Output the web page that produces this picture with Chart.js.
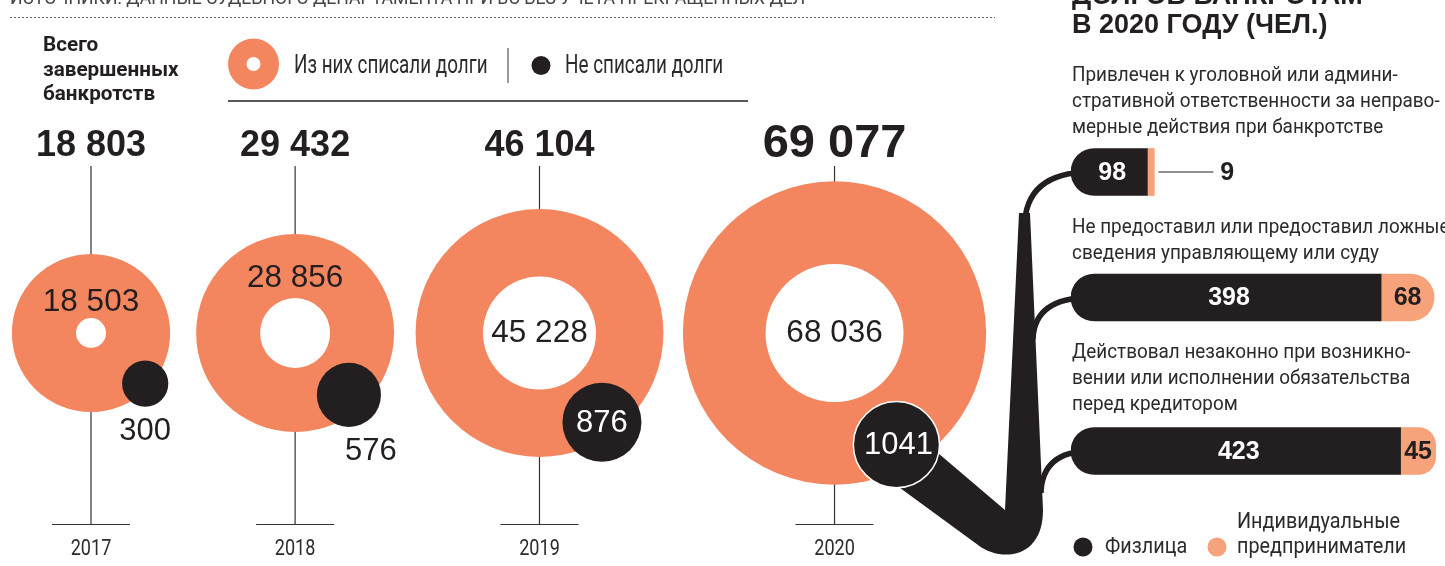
<!DOCTYPE html>
<html>
<head>
<meta charset="utf-8">
<script src="https://cdn.jsdelivr.net/npm/chart.js@4.4.1/dist/chart.umd.min.js"></script>
<style>
  html, body { margin: 0; padding: 0; background: #fff; overflow: hidden; }
  #wrap { position: relative; width: 1445px; height: 566px; }
  #main { position: absolute; left: 0; top: 0; }
  #bars { position: absolute; left: 1060px; top: 0; }
</style>
</head>
<body>
<div id="wrap">
  <canvas id="main" width="1445" height="566"></canvas>
  <canvas id="bars" width="385" height="566"></canvas>
</div>
<script>
// ---- data ----
var years = ['2017', '2018', '2019', '2020'];
var totalCases = [18803, 29432, 46104, 69077];
var debtsWritten = [18503, 28856, 45228, 68036];
var notWritten = [300, 576, 876, 1041];

var reasons = [
  ['Привлечен к уголовной или админи-', 'стративной ответственности за неправо-', 'мерные действия при банкротстве'],
  ['Не предоставил или предоставил ложные', 'сведения управляющему или суду'],
  ['Действовал незаконно при возникно-', 'вении или исполнении обязательства', 'перед кредитором']
];
var individuals = [98, 398, 423];
var entrepreneurs = [9, 68, 45];

// ---- look ----
var ORANGE = '#f3855f', DARK = '#231f20', PEACH = '#f6a27b', INK = '#2b2b2b';
var W = 1445, H = 566;
var ringScale = 0.577, dotScale = 1.335;      // px per sqrt(person)
var holeR = [15, 35, 56.5, 69];
var firstX = 91, gaps = [26, 21.5, 19.5], rowY = 333;
var dotAngle = [43, 49, 55, 61], dotInset = [5, 17, 15, 24];
var ringLabelDy = [-31, -55, 0, 0];
var dotLabelDx = [0, 22, 0, 2];
var barLeft = 1060, barPad = 11, barMax = 480;

// layout of the ring row
var ringR = totalCases.map(function (v) { return ringScale * Math.sqrt(v); });
var dotR = notWritten.map(function (v) { return dotScale * Math.sqrt(v); });
var cx = [];
ringR.forEach(function (r, i) {
  cx.push(i === 0 ? firstX : cx[i - 1] + ringR[i - 1] + gaps[i - 1] + r);
});
var ringPts = years.map(function (y, i) { return { x: cx[i], y: rowY, r: ringR[i] }; });
var holePts = years.map(function (y, i) { return { x: cx[i], y: rowY, r: holeR[i] }; });
var dotPts = years.map(function (y, i) {
  var d = ringR[i] - dotInset[i], a = dotAngle[i] * Math.PI / 180;
  return { x: cx[i] + d * Math.cos(a), y: rowY + d * Math.sin(a), r: dotR[i] };
});

// layout of the reason blocks (text lines then a bar)
var lineH = 26, descY = [], barY = [];
var yy = 81;
reasons.forEach(function (lines, i) {
  descY.push(yy);
  var last = yy + (lines.length - 1) * lineH;
  barY.push(last + 39 + (i === 2 ? 2 : 0));
  yy = last + 39 + 60.5;
});

function say(ctx, s, x, y, o) {
  ctx.save();
  ctx.font = (o.weight || '400') + ' ' + o.size + 'px ' + (o.family || 'Roboto');
  ctx.fillStyle = o.color || DARK;
  ctx.textBaseline = o.base || 'alphabetic';
  ctx.textAlign = 'left';
  var sx = o.sx || 1;
  var w = ctx.measureText(s).width * sx;
  var x0 = o.align === 'center' ? x - w / 2 : (o.align === 'right' ? x - w : x);
  ctx.translate(x0, y);
  ctx.scale(sx, 1);
  ctx.fillText(s, 0, 0);
  ctx.restore();
}
function fmt(v) { return String(v).replace(/\B(?=(\d{3})+(?!\d))/g, ' '); }

// ---- bar chart (right) ----
var barLabels = {
  id: 'barLabels',
  afterDatasetsDraw: function (chart) {
    var ctx = chart.ctx;
    var fl = chart.getDatasetMeta(0).data, ip = chart.getDatasetMeta(1).data;
    fl.forEach(function (el, i) {
      say(ctx, String(individuals[i]), (el.base + el.x) / 2 + 3, el.y + 1, { size: 25, weight: '700', family: 'Liberation Sans', color: '#fff', align: 'center', base: 'middle' });
    });
    ip.forEach(function (el, i) {
      var w = el.x - el.base;
      if (w > 25) {
        say(ctx, String(entrepreneurs[i]), (el.base + el.x) / 2, el.y + 1, { size: 25, weight: '700', family: 'Liberation Sans', color: DARK, align: 'center', base: 'middle' });
      } else {
        ctx.save();
        ctx.strokeStyle = DARK; ctx.lineWidth = 1.2;
        ctx.beginPath(); ctx.moveTo(el.x + 4, el.y); ctx.lineTo(el.x + 59, el.y); ctx.stroke();
        ctx.restore();
        say(ctx, String(entrepreneurs[i]), el.x + 66, el.y + 1, { size: 25, weight: '700', family: 'Liberation Sans', color: DARK, base: 'middle' });
      }
    });
  }
};

var barChart = new Chart(document.getElementById('bars'), {
  type: 'bar',
  data: {
    datasets: [{
      label: 'Физлица',
      data: individuals.map(function (v, i) { return { x: v, y: barY[i] }; }),
      backgroundColor: DARK,
      borderSkipped: false,
      borderRadius: { topLeft: 24, bottomLeft: 24, topRight: 0, bottomRight: 0 },
      barThickness: 47
    }, {
      label: 'Индивидуальные предприниматели',
      data: entrepreneurs.map(function (v, i) { return { x: v, y: barY[i] }; }),
      backgroundColor: PEACH,
      borderSkipped: false,
      borderRadius: function (c) {
        return c.raw && c.raw.x >= 20 ? { topLeft: 0, bottomLeft: 0, topRight: 24, bottomRight: 24 } : 0;
      },
      barThickness: 47
    }]
  },
  options: {
    indexAxis: 'y',
    responsive: false,
    animation: false,
    events: [],
    layout: { autoPadding: false, padding: { left: barPad, right: 0, top: 0, bottom: 0 } },
    plugins: { legend: { display: false }, tooltip: { enabled: false } },
    scales: {
      x: { type: 'linear', stacked: true, min: 0, max: barMax, display: false, offset: false },
      y: { type: 'linear', stacked: true, min: 0, max: H, reverse: true, display: false, offset: false }
    }
  },
  plugins: [barLabels]
});

// ---- ring chart (left, full canvas) ----
var decor = {
  id: 'decor',
  beforeDatasetsDraw: function (chart) {
    var ctx = chart.ctx;
    ctx.save();
    // dotted rule under the source line
    ctx.strokeStyle = '#666'; ctx.lineWidth = 1; ctx.setLineDash([2, 2]);
    ctx.beginPath(); ctx.moveTo(10, 17.5); ctx.lineTo(995, 17.5); ctx.stroke();
    ctx.setLineDash([]);
    // stems and base ticks
    var rings = chart.getDatasetMeta(2).data;
    ctx.strokeStyle = '#333'; ctx.lineWidth = 1.2;
    rings.forEach(function (el) {
      ctx.beginPath();
      ctx.moveTo(el.x, 166); ctx.lineTo(el.x, 524.5);
      ctx.moveTo(el.x - 39, 524.5); ctx.lineTo(el.x + 39, 524.5);
      ctx.stroke();
    });
    // legend rule and divider
    ctx.strokeStyle = DARK; ctx.lineWidth = 1.5;
    ctx.beginPath(); ctx.moveTo(228, 101); ctx.lineTo(748, 101); ctx.stroke();
    ctx.strokeStyle = '#333'; ctx.lineWidth = 1;
    ctx.beginPath(); ctx.moveTo(508, 48); ctx.lineTo(508, 83); ctx.stroke();

    // connector from the 2020 dot to the three bars
    var bm = barChart.getDatasetMeta(0).data;
    var xL = barLeft + bm[0].base;
    var y1 = bm[0].y, y2 = bm[1].y, y3 = bm[2].y;
    var dot = chart.getDatasetMeta(0).data[3];
    var rb = dot.options.radius;
    var xs = xL - 47, yb = y3 + 59, xt = xL - 46.5, yt = y1 + 41;
    var a1 = 12 * Math.PI / 180, a2 = 86 * Math.PI / 180;
    ctx.fillStyle = DARK;
    ctx.beginPath();
    ctx.moveTo(dot.x + rb * Math.cos(a1), dot.y + rb * Math.sin(a1));
    ctx.lineTo(xs - 19, yb);
    ctx.lineTo(xt - 5.5, yt);
    ctx.lineTo(xt + 5.5, yt);
    ctx.lineTo(xs + 19, yb);
    ctx.bezierCurveTo(xs + 19, yb + 50, xs - 24, yb + 52, xs - 46, yb + 35);
    ctx.lineTo(dot.x + rb * Math.cos(a2), dot.y + rb * Math.sin(a2));
    ctx.closePath();
    ctx.fill();
    ctx.strokeStyle = DARK; ctx.lineWidth = 5.5;
    ctx.beginPath();
    ctx.moveTo(xt, yt + 15); ctx.quadraticCurveTo(xt, y1, xL + 20, y1);
    ctx.moveTo(xL - 38, y2 + 42); ctx.quadraticCurveTo(xL - 37, y2, xL + 20, y2);
    ctx.moveTo(xL - 30, y3 + 42); ctx.quadraticCurveTo(xL - 29, y3, xL + 20, y3);
    ctx.stroke();
    ctx.restore();
  },
  afterDatasetsDraw: function (chart) {
    var ctx = chart.ctx;
    var rings = chart.getDatasetMeta(2).data, dots = chart.getDatasetMeta(0).data;

    // source line (cut by the top edge) and the right-hand title
    say(ctx, 'ИСТОЧНИКИ: ДАННЫЕ СУДЕБНОГО ДЕПАРТАМЕНТА ПРИ ВС БЕЗ УЧЕТА ПРЕКРАЩЕННЫХ ДЕЛ', 10, 4, { size: 19, color: '#444', sx: 0.93 });
    say(ctx, 'ДОЛГОВ БАНКРОТАМ', 1072, 4, { size: 27, weight: '700', family: 'Liberation Sans' });
    say(ctx, 'В 2020 ГОДУ (ЧЕЛ.)', 1072, 33, { size: 27, weight: '700', family: 'Liberation Sans' });

    // left caption
    ['Всего', 'завершенных', 'банкротств'].forEach(function (s, i) {
      say(ctx, s, 43, 51 + i * 24.5, { size: 21, weight: '700', sx: 0.985 });
    });

    // legend
    ctx.save();
    ctx.fillStyle = ORANGE;
    ctx.beginPath(); ctx.arc(253.5, 64, 25.5, 0, Math.PI * 2); ctx.fill();
    ctx.fillStyle = '#fff';
    ctx.beginPath(); ctx.arc(253.5, 64, 7, 0, Math.PI * 2); ctx.fill();
    ctx.fillStyle = DARK;
    ctx.beginPath(); ctx.arc(541, 65.5, 9.5, 0, Math.PI * 2); ctx.fill();
    ctx.restore();
    say(ctx, 'Из них списали долги', 294, 73, { size: 25, color: INK, sx: 0.755 });
    say(ctx, 'Не списали долги', 565, 73, { size: 25, color: INK, sx: 0.755 });

    // totals, years, values
    rings.forEach(function (el, i) {
      var big = i === rings.length - 1;
      say(ctx, fmt(totalCases[i]), el.x, big ? 157 : 156, { size: big ? 47 : 36, weight: '700', family: 'Liberation Sans', align: 'center' });
      say(ctx, years[i], el.x, 555, { size: 22, color: INK, sx: 0.82, align: 'center' });
      say(ctx, fmt(debtsWritten[i]), el.x, el.y + ringLabelDy[i], { size: 31.5, family: 'Liberation Sans', align: 'center', base: 'middle' });
      var d = dots[i], inside = d.options.radius > 36;
      if (inside) {
        say(ctx, String(notWritten[i]), d.x + dotLabelDx[i], d.y + 1, { size: 31, family: 'Liberation Sans', color: '#fff', align: 'center', base: 'middle' });
      } else {
        say(ctx, String(notWritten[i]), d.x + dotLabelDx[i], d.y + d.options.radius + 33, { size: 31, family: 'Liberation Sans', align: 'center' });
      }
    });

    // reason captions
    reasons.forEach(function (lines, i) {
      lines.forEach(function (s, j) {
        say(ctx, s, 1072, descY[i] + j * lineH, { size: 21, color: INK, sx: 0.9 });
      });
    });

    // bottom legend
    ctx.save();
    ctx.fillStyle = DARK;
    ctx.beginPath(); ctx.arc(1083, 547, 9.5, 0, Math.PI * 2); ctx.fill();
    ctx.fillStyle = PEACH;
    ctx.beginPath(); ctx.arc(1217, 547, 9.5, 0, Math.PI * 2); ctx.fill();
    ctx.restore();
    say(ctx, 'Физлица', 1105, 553, { size: 22, color: INK, sx: 0.9 });
    say(ctx, 'Индивидуальные', 1237, 528, { size: 22, color: INK, sx: 0.9 });
    say(ctx, 'предприниматели', 1237, 553, { size: 22, color: INK, sx: 0.9 });
  }
};

var mainChart = new Chart(document.getElementById('main'), {
  type: 'bubble',
  data: {
    datasets: [{
      label: 'Не списали долги',
      data: dotPts,
      backgroundColor: DARK,
      borderColor: '#fff',
      borderWidth: function (c) { return c.dataIndex === 3 ? 1.5 : 0; },
      clip: false
    }, {
      label: 'hole',
      data: holePts,
      backgroundColor: '#fff',
      borderWidth: 0,
      clip: false
    }, {
      label: 'Из них списали долги',
      data: ringPts,
      backgroundColor: ORANGE,
      borderWidth: 0,
      clip: false
    }]
  },
  options: {
    responsive: false,
    animation: false,
    events: [],
    layout: { autoPadding: false, padding: 0 },
    plugins: { legend: { display: false }, tooltip: { enabled: false } },
    scales: {
      x: { type: 'linear', min: 0, max: W, display: false, offset: false },
      y: { type: 'linear', min: 0, max: H, reverse: true, display: false, offset: false }
    }
  },
  plugins: [decor]
});
</script>
</body>
</html>
